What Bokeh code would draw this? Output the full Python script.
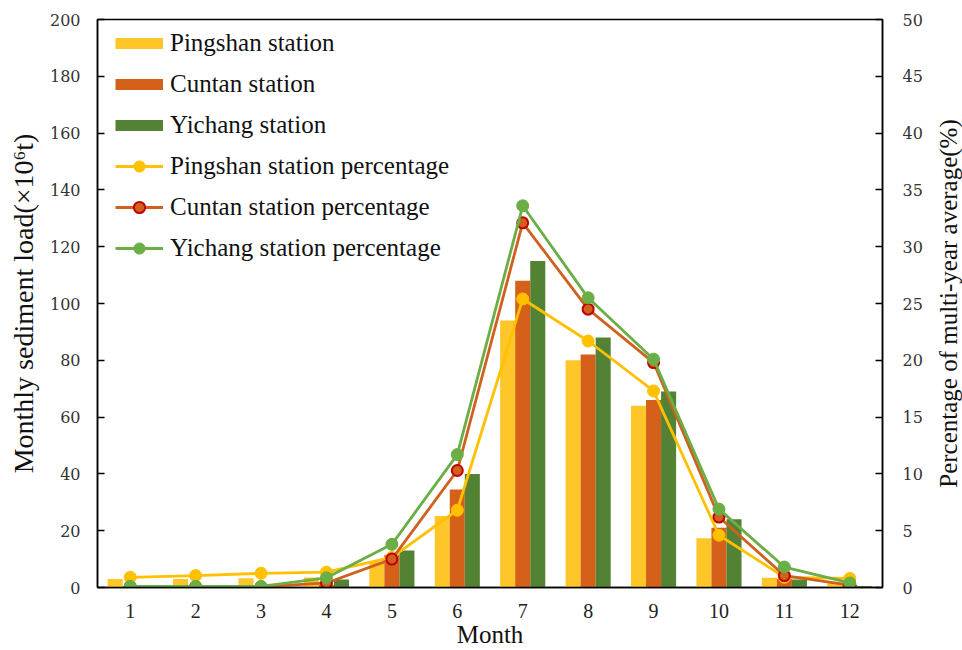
from bokeh.plotting import figure
from bokeh.layouts import row
from bokeh.models import (Range1d, LinearAxis, FixedTicker, Legend, LegendItem, Title)
from bokeh.embed import file_html
from bokeh.resources import INLINE

months = [1, 2, 3, 4, 5, 6, 7, 8, 9, 10, 11, 12]
month_labels = [str(m) for m in months]

pingshan_load = [3.0, 3.0, 3.3, 3.5, 9.0, 25.2, 94.0, 80.0, 64.0, 17.3, 3.4, 1.8]
cuntan_load = [0.5, 0.5, 0.5, 1.0, 11.5, 34.5, 108.0, 82.0, 66.0, 21.0, 3.0, 1.0]
yichang_load = [0.3, 0.3, 0.3, 2.8, 13.0, 40.0, 115.0, 88.0, 69.0, 24.0, 2.8, 0.5]

pingshan_pct = [0.9, 1.05, 1.25, 1.35, 2.65, 6.8, 25.4, 21.7, 17.3, 4.6, 0.9, 0.8]
cuntan_pct = [0.05, 0.05, 0.05, 0.4, 2.5, 10.3, 32.1, 24.5, 19.8, 6.2, 1.05, 0.2]
yichang_pct = [0.1, 0.1, 0.1, 0.85, 3.8, 11.7, 33.6, 25.5, 20.1, 6.9, 1.8, 0.4]

left_ticks = [0, 20, 40, 60, 80, 100, 120, 140, 160, 180, 200]
right_ticks = [0, 5, 10, 15, 20, 25, 30, 35, 40, 45, 50]

BAR_Y = "#FFC629"
BAR_O = "#D5601A"
BAR_G = "#548235"
LINE_Y = "#FFC000"
LINE_O = "#D0601E"
LINE_G = "#6AAE45"
RED = "#C00000"

SERIF = "Liberation Serif"

p = figure(width=932, height=650, output_backend="svg", toolbar_location=None,
           x_range=Range1d(0.5, 12.5), y_range=Range1d(0, 200),
           min_border_left=97, min_border_right=50, min_border_top=19,
           min_border_bottom=63)
p.extra_y_ranges = {"pct": Range1d(0, 50)}
p.xgrid.visible = False
p.ygrid.visible = False
p.outline_line_color = "black"
p.outline_line_width = 1.5
p.background_fill_color = "white"
p.border_fill_color = "white"

off = 0.23
w = 0.23
xs_y = [m - off for m in months]
xs_g = [m + off for m in months]
p.vbar(x=xs_y, top=pingshan_load, width=w, bottom=0, fill_color=BAR_Y, line_color=None)
p.vbar(x=months, top=cuntan_load, width=w, bottom=0, fill_color=BAR_O, line_color=None)
p.vbar(x=xs_g, top=yichang_load, width=w, bottom=0, fill_color=BAR_G, line_color=None)

ly = p.line(months, pingshan_pct, y_range_name="pct", line_color=LINE_Y, line_width=2.8)
sy = p.scatter(months, pingshan_pct, y_range_name="pct", size=12, fill_color=LINE_Y, line_color=LINE_Y)
lo = p.line(months, cuntan_pct, y_range_name="pct", line_color=LINE_O, line_width=2.8)
so = p.scatter(months, cuntan_pct, y_range_name="pct", size=11, fill_color=LINE_O, line_color=RED, line_width=2)
lg = p.line(months, yichang_pct, y_range_name="pct", line_color=LINE_G, line_width=2.8)
sg = p.scatter(months, yichang_pct, y_range_name="pct", size=12, fill_color=LINE_G, line_color=LINE_G)

# legend swatches for the bars: hidden thick lines (only their legend glyph is drawn)
ky = p.line(months, pingshan_load, line_color=BAR_Y, line_width=11, visible=False)
ko = p.line(months, cuntan_load, line_color=BAR_O, line_width=11, visible=False)
kg = p.line(months, yichang_load, line_color=BAR_G, line_width=11, visible=False)

legend = Legend(items=[
    LegendItem(label="Pingshan station", renderers=[ky]),
    LegendItem(label="Cuntan station", renderers=[ko]),
    LegendItem(label="Yichang station", renderers=[kg]),
    LegendItem(label="Pingshan station percentage", renderers=[ly, sy]),
    LegendItem(label="Cuntan station percentage", renderers=[lo, so]),
    LegendItem(label="Yichang station percentage", renderers=[lg, sg]),
], location=(18, 325))
legend.border_line_color = None
legend.background_fill_alpha = 0
legend.label_text_font = SERIF
legend.label_text_font_size = "25px"
legend.label_text_color = "#111111"
legend.glyph_width = 48
legend.glyph_height = 28
legend.label_height = 28
legend.spacing = 13
legend.label_standoff = 7
legend.padding = 4
legend.margin = 0
p.add_layout(legend, "center")

# x axis
xa = p.xaxis[0]
xa.ticker = FixedTicker(ticks=months)
xa.major_label_overrides = {m: l for m, l in zip(months, month_labels)}
xa.major_tick_line_color = None
xa.minor_tick_line_color = None
xa.axis_line_color = "black"
xa.axis_line_width = 1.5
xa.major_label_text_font = SERIF
xa.major_label_text_font_size = "20px"
xa.major_label_text_color = "#222222"
xa.major_label_standoff = 10
xa.axis_label = "Month"
xa.axis_label_text_font = SERIF
xa.axis_label_text_font_size = "25px"
xa.axis_label_text_font_style = "normal"
xa.axis_label_text_color = "#111111"
xa.axis_label_standoff = 0

# left axis
ya = p.yaxis[0]
ya.ticker = FixedTicker(ticks=left_ticks)
ya.minor_tick_line_color = None
ya.major_tick_in = 7
ya.major_tick_out = 0
ya.major_tick_line_width = 1.5
ya.axis_line_color = "black"
ya.axis_line_width = 1.5
ya.major_label_text_font = "DejaVu Serif"
ya.major_label_text_font_size = "16px"
ya.major_label_text_color = "#333333"
ya.major_label_standoff = 17
ya.axis_label = "Monthly sediment load(\u00d710\u2076t)"
ya.axis_label_text_font = SERIF
ya.axis_label_text_font_size = "28px"
ya.axis_label_text_font_style = "normal"
ya.axis_label_text_color = "#111111"
ya.axis_label_standoff = 8

# right axis (ticks and numbers)
ra = LinearAxis(y_range_name="pct", ticker=FixedTicker(ticks=right_ticks))
ra.minor_tick_line_color = None
ra.major_tick_in = 7
ra.major_tick_out = 0
ra.major_tick_line_width = 1.5
ra.axis_line_color = "black"
ra.axis_line_width = 1.5
ra.major_label_text_font = "DejaVu Serif"
ra.major_label_text_font_size = "16px"
ra.major_label_text_color = "#333333"
ra.major_label_standoff = 20
p.add_layout(ra, "right")

# narrow companion figure carrying the right-hand title, read bottom-to-top
p2 = figure(width=30, height=650, output_backend="svg", toolbar_location=None,
            x_range=Range1d(0, 1), y_range=Range1d(0, 50),
            min_border_left=0, min_border_right=0, min_border_top=19,
            min_border_bottom=63)
p2.xaxis.visible = False
p2.yaxis.visible = False
p2.xgrid.visible = False
p2.ygrid.visible = False
p2.outline_line_color = None
p2.background_fill_color = "white"
p2.border_fill_color = "white"
rt = Title(text="Percentage of multi-year average(%)", align="center",
           text_font=SERIF, text_font_size="25px", text_font_style="normal",
           text_color="#111111", offset=0, standoff=0)
p2.add_layout(rt, "left")

open("out.html", "w").write(file_html(row(p, p2), INLINE))
